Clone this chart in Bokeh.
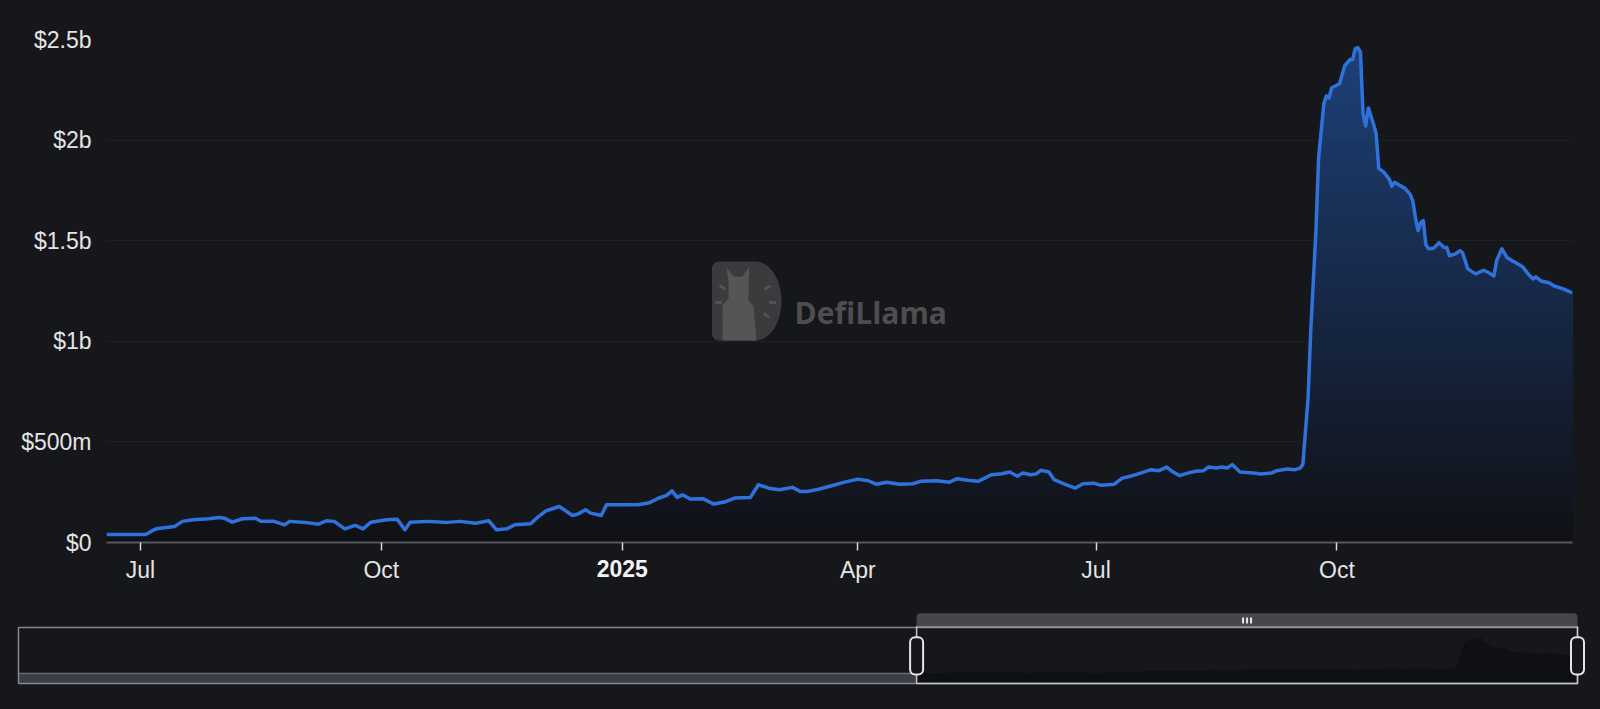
import numpy as np
import pandas as pd
from bokeh.plotting import figure
from bokeh.models import Range1d, FixedTicker, Label, PolyAnnotation, DatetimeAxis, GlobalInlineStyleSheet
from bokeh.layouts import column
from bokeh.embed import file_html
from bokeh.resources import INLINE

# ---------------- data (TVL in millions of USD) ----------------
dates = [
    "2024-06-18", "2024-07-03", "2024-07-05", "2024-07-07", "2024-07-14", "2024-07-17", "2024-07-21",
    "2024-07-27", "2024-07-31", "2024-08-02", "2024-08-05", "2024-08-09", "2024-08-14", "2024-08-16",
    "2024-08-21", "2024-08-25", "2024-08-27", "2024-09-02", "2024-09-07", "2024-09-10", "2024-09-13",
    "2024-09-17", "2024-09-21", "2024-09-24", "2024-09-27", "2024-10-03", "2024-10-07", "2024-10-10",
    "2024-10-12", "2024-10-19", "2024-10-26", "2024-10-31", "2024-11-06", "2024-11-11", "2024-11-14",
    "2024-11-18", "2024-11-21", "2024-11-27", "2024-11-30", "2024-12-03", "2024-12-08", "2024-12-13",
    "2024-12-15", "2024-12-18", "2024-12-20", "2024-12-24", "2024-12-26", "2025-01-03", "2025-01-07",
    "2025-01-11", "2025-01-15", "2025-01-18", "2025-01-20", "2025-01-22", "2025-01-24", "2025-01-27",
    "2025-02-01", "2025-02-05", "2025-02-09", "2025-02-13", "2025-02-19", "2025-02-22", "2025-02-26",
    "2025-03-02", "2025-03-07", "2025-03-10", "2025-03-13", "2025-03-17", "2025-03-22", "2025-03-27",
    "2025-04-01", "2025-04-05", "2025-04-08", "2025-04-12", "2025-04-17", "2025-04-22", "2025-04-25",
    "2025-05-01", "2025-05-06", "2025-05-09", "2025-05-13", "2025-05-17", "2025-05-22", "2025-05-26",
    "2025-05-29", "2025-06-01", "2025-06-03", "2025-06-06", "2025-06-08", "2025-06-10", "2025-06-13",
    "2025-06-15", "2025-06-19", "2025-06-23", "2025-06-26", "2025-06-30", "2025-07-03", "2025-07-08",
    "2025-07-11", "2025-07-14", "2025-07-18", "2025-07-22", "2025-07-25", "2025-07-28", "2025-07-30",
    "2025-08-02", "2025-08-05", "2025-08-08", "2025-08-11", "2025-08-13", "2025-08-16", "2025-08-18",
    "2025-08-20", "2025-08-22", "2025-08-25", "2025-08-30", "2025-09-02", "2025-09-06", "2025-09-08",
    "2025-09-12", "2025-09-15", "2025-09-17", "2025-09-18", "2025-09-20", "2025-09-21", "2025-09-23",
    "2025-09-24", "2025-09-26", "2025-09-27", "2025-09-28", "2025-09-29", "2025-10-02", "2025-10-04",
    "2025-10-06", "2025-10-07", "2025-10-08", "2025-10-09", "2025-10-10", "2025-10-11", "2025-10-12",
    "2025-10-13", "2025-10-15", "2025-10-16", "2025-10-17", "2025-10-19", "2025-10-21", "2025-10-22",
    "2025-10-23", "2025-10-27", "2025-10-29", "2025-10-30", "2025-10-31", "2025-11-01", "2025-11-02",
    "2025-11-03", "2025-11-04", "2025-11-05", "2025-11-07", "2025-11-09", "2025-11-11", "2025-11-12",
    "2025-11-13", "2025-11-15", "2025-11-17", "2025-11-18", "2025-11-20", "2025-11-23", "2025-11-26",
    "2025-11-28", "2025-11-30", "2025-12-01", "2025-12-03", "2025-12-05", "2025-12-07", "2025-12-11",
    "2025-12-13", "2025-12-15", "2025-12-16", "2025-12-18", "2025-12-21", "2025-12-23", "2025-12-26",
    "2025-12-30",
]
tvl_m = [
    40, 40, 55, 68, 80, 105, 113,
    118, 124, 121, 101, 118, 121, 105,
    105, 88, 105, 100, 91, 108, 105,
    68, 85, 68, 101, 113, 116, 63,
    101, 105, 100, 105, 96, 108, 63,
    68, 88, 93, 129, 158, 179, 134,
    141, 163, 146, 134, 188, 188, 188,
    196, 221, 234, 257, 224, 237, 216,
    217, 191, 201, 221, 224, 287, 270,
    262, 274, 254, 254, 265, 282, 300,
    315, 307, 290, 299, 290, 292, 304,
    307, 300, 317, 309, 304, 337, 342,
    350, 329, 345, 337, 340, 359, 350,
    312, 290, 270, 292, 295, 284, 290,
    320, 329, 345, 362, 357, 375, 354,
    332, 345, 354, 357, 375, 370, 375,
    370, 387, 350, 345, 340, 345, 357,
    365, 362, 370, 388, 719, 1050, 1550,
    1910, 2180, 2220, 2210, 2260, 2280, 2370,
    2400, 2400, 2455, 2460, 2437, 2130, 2070,
    2160, 2080, 2030, 1860, 1840, 1806, 1770,
    1790, 1760, 1730, 1698, 1615, 1550, 1590,
    1600, 1480, 1460, 1463, 1490, 1466, 1466,
    1425, 1433, 1450, 1441, 1360, 1335, 1353,
    1341, 1325, 1400, 1460, 1416, 1400, 1370,
    1335, 1310, 1320, 1300, 1291, 1275, 1263,
    1240,
]
# full history shown in the zoom slider (flat before the visible window)
history_start = "2022-05-19"
history_start_tvl_m = 40

y_ticks_m = [0, 500, 1000, 1500, 2000, 2500]
y_tick_labels = ["$0", "$500m", "$1b", "$1.5b", "$2b", "$2.5b"]
x_tick_dates = ["2024-07-01", "2024-10-01", "2025-01-01", "2025-04-01", "2025-07-01", "2025-10-01"]
x_tick_labels = ["Jul", "Oct", "2025", "Apr", "Jul", "Oct"]
x_tick_bold = [False, False, True, False, False, False]
watermark_text = "DefiLlama"

# ---------------- style ----------------
BG = "#16171a"
LINE = "#2f72dc"
TXT = "#e4e4e4"
FONT = "Liberation Sans"
FS = "23px"
W = 1600
H_MAIN = 598
H_SL = 111
ML, MR, MT, MB = 106, 28, 39, 56
FH = H_MAIN - MT - MB

EPOCH = pd.Timestamp("1970-01-01")


def to_ms(d):
    return (pd.Timestamp(d) - EPOCH) / pd.Timedelta(milliseconds=1)


t_ms = np.array([to_ms(d) for d in dates])
v = np.array(tvl_m, dtype=float)
x_tick_ms = [to_ms(d) for d in x_tick_dates]

# ---------------- main chart ----------------
p = figure(width=W, height=H_MAIN, x_axis_type="datetime", output_backend="svg",
           toolbar_location=None,
           x_range=Range1d(t_ms[0], t_ms[-1]), y_range=Range1d(y_ticks_m[0], y_ticks_m[-1]),
           min_border_left=ML, min_border_right=MR, min_border_top=MT, min_border_bottom=MB,
           background_fill_color=BG, border_fill_color=BG, outline_line_color=None)
p.frame_align = False

# vertical gradient fill under the line (relative to the area's bounding box)
N = 48
top_rgb = np.array([29, 64, 120], dtype=float)
bot_rgb = np.array([16, 17, 21], dtype=float)
vmax = v.max()
for k in range(N - 1, -1, -1):
    cap = vmax * (k + 1) / N
    f = (k + 0.5) / N
    c = bot_rgb + (top_rgb - bot_rgb) * f
    col = "#%02x%02x%02x" % tuple(int(round(x)) for x in c)
    p.varea(x=t_ms, y1=0, y2=np.minimum(v, cap), fill_color=col, fill_alpha=1.0)

p.line(t_ms, v, line_color=LINE, line_width=3.5, line_join="round")

p.xgrid.visible = False
p.ygrid.grid_line_color = "#1f2024"
p.ygrid.grid_line_width = 1

p.yaxis.ticker = FixedTicker(ticks=y_ticks_m)
p.yaxis.major_label_overrides = {tk: lb for tk, lb in zip(y_ticks_m, y_tick_labels)}
p.yaxis.axis_line_color = None
p.yaxis.major_tick_line_color = None
p.yaxis.major_tick_out = 0
p.yaxis.major_tick_in = 0
p.yaxis.minor_tick_line_color = None
p.yaxis.minor_tick_out = 0
p.yaxis.major_label_standoff = 15
p.yaxis.major_label_text_font = FONT
p.yaxis.major_label_text_font_size = FS
p.yaxis.major_label_text_color = TXT

p.xaxis.ticker = FixedTicker(ticks=x_tick_ms)
p.xaxis.major_label_overrides = {tk: ("" if b else lb) for tk, lb, b in zip(x_tick_ms, x_tick_labels, x_tick_bold)}
p.xaxis.axis_line_color = "#55575c"
p.xaxis.axis_line_width = 2
p.xaxis.major_tick_line_color = "#d8d8d8"
p.xaxis.major_tick_line_width = 1.5
p.xaxis.major_tick_out = 8
p.xaxis.major_tick_in = 0
p.xaxis.minor_tick_line_color = None
p.xaxis.minor_tick_out = 0
p.xaxis.major_label_standoff = 6
p.xaxis.major_label_text_font = FONT
p.xaxis.major_label_text_font_size = FS
p.xaxis.major_label_text_color = TXT

# second (label-only) axis for the bold year label, pulled up onto the first axis' label row
bold_ticks = [tk for tk, b in zip(x_tick_ms, x_tick_bold) if b]
ax2 = DatetimeAxis(ticker=FixedTicker(ticks=bold_ticks),
                   major_label_overrides={tk: lb for tk, lb, b in zip(x_tick_ms, x_tick_labels, x_tick_bold) if b})
ax2.axis_line_color = None
ax2.major_tick_line_color = None
ax2.major_tick_out = 0
ax2.major_tick_in = 0
ax2.minor_tick_line_color = None
ax2.minor_tick_out = 0
ax2.minor_tick_in = 0
ax2.major_label_standoff = -26
ax2.major_label_text_font = FONT
ax2.major_label_text_font_size = FS
ax2.major_label_text_font_style = "bold"
ax2.major_label_text_color = "#f4f4f4"
p.add_layout(ax2, "below")

# ---------------- watermark (screen units relative to the plot frame) ----------------
def wm(xs, ys):
    xs = np.asarray(xs, dtype=float)
    ys = np.asarray(ys, dtype=float)
    return list(xs - ML), list(MT + FH - ys)


Lx, Rx, Ty, By = 711.5, 781.0, 261.0, 340.0
rx = 26.0
cx = Rx - rx
cy = (Ty + By) / 2
ry = (By - Ty) / 2
rc = 7.0
a_tl = np.linspace(np.pi, np.pi / 2, 8)
a_arc = np.linspace(np.pi / 2, -np.pi / 2, 40)
a_bl = np.linspace(-np.pi / 2, -np.pi, 8)
d_x = np.concatenate([Lx + rc + rc * np.cos(a_tl), cx + rx * np.cos(a_arc), Lx + rc + rc * np.cos(a_bl)])
d_y = np.concatenate([Ty + rc - rc * np.sin(a_tl), cy - ry * np.sin(a_arc), By - rc - rc * np.sin(a_bl)])
sx, sy = wm(d_x, d_y)
p.add_layout(PolyAnnotation(xs=sx, ys=sy, xs_units="screen", ys_units="screen",
                            fill_color="#3b3b3d", fill_alpha=1, line_color=None))

llama_x = [722, 722, 728, 728, 726, 733, 742, 749, 748, 748, 753, 756]
llama_y = [340, 305, 298, 282, 267, 276, 276, 266, 282, 300, 306, 340]
sx, sy = wm(llama_x, llama_y)
p.add_layout(PolyAnnotation(xs=sx, ys=sy, xs_units="screen", ys_units="screen",
                            fill_color="#555557", fill_alpha=1, line_color=None))

ccx, ccy = 745.0, 301.0
for dx_, dy_ in [(722, 287), (718, 302), (725, 315), (767, 287), (772, 302), (766, 315)]:
    ux, uy = dx_ - ccx, dy_ - ccy
    nrm = np.hypot(ux, uy)
    ux, uy = ux / nrm, uy / nrm
    px_, py_ = -uy, ux
    hl, ht = 3.5, 1.3
    qx = [dx_ - ux * hl - px_ * ht, dx_ + ux * hl - px_ * ht, dx_ + ux * hl + px_ * ht, dx_ - ux * hl + px_ * ht]
    qy = [dy_ - uy * hl - py_ * ht, dy_ + uy * hl - py_ * ht, dy_ + uy * hl + py_ * ht, dy_ - uy * hl + py_ * ht]
    sx, sy = wm(qx, qy)
    p.add_layout(PolyAnnotation(xs=sx, ys=sy, xs_units="screen", ys_units="screen",
                                fill_color="#555557", fill_alpha=1, line_color=None))

tx, ty = wm([794], [312])
p.add_layout(Label(x=tx[0], y=ty[0], x_units="screen", y_units="screen", text=watermark_text,
                   text_align="left", text_baseline="alphabetic", text_font="Open Sans",
                   text_font_size="30px", text_font_style="bold", text_color="#4e4e51"))

# ---------------- zoom slider ----------------
h_ms0 = to_ms(history_start)
end_ms = t_ms[-1]
SX0, SX1 = 18, 1577
mpp = (end_ms - h_ms0) / (SX1 - SX0)
vmin = min(v.min(), history_start_tvl_m)
kk = (vmax - vmin) / (75 - 39)


def sval(py):
    return vmin + (75 - py) * kk


s = figure(width=W, height=H_SL, output_backend="svg", toolbar_location=None,
           x_range=Range1d(h_ms0 - SX0 * mpp, h_ms0 + (W - SX0) * mpp),
           y_range=Range1d(sval(H_SL), sval(0)),
           x_axis_location=None, y_axis_location=None,
           min_border_left=0, min_border_right=0, min_border_top=0, min_border_bottom=0,
           background_fill_color=BG, border_fill_color=BG, outline_line_color=None)
s.frame_align = False
s.grid.visible = False

pre_x = [h_ms0, t_ms[0]]
pre_y = [history_start_tvl_m, v[0]]
s.varea(x=pre_x, y1=sval(85), y2=pre_y, fill_color="#3b3e46")
s.line(pre_x, pre_y, line_color="#686b74", line_width=1.5)
s.varea(x=t_ms, y1=sval(85), y2=v, fill_color="#0f1013")

s.quad(left=[h_ms0], right=[end_ms], top=[sval(29)], bottom=[sval(85)],
       fill_alpha=0, line_color="#85878c", line_width=1.5)
s.quad(left=[t_ms[0]], right=[end_ms], top=[sval(28)], bottom=[sval(85)],
       fill_alpha=0, line_color="#c4c5c8", line_width=1.5)
s.quad(left=[t_ms[0]], right=[end_ms], top=[sval(14.7)], bottom=[sval(28)],
       fill_color="#46474b", line_color=None, border_radius=(4, 4, 0, 0))
cmid = (t_ms[0] + end_ms) / 2
for off in (-4, 0, 4):
    s.quad(left=[cmid + (off - 1) * mpp], right=[cmid + (off + 1) * mpp],
           top=[sval(19)], bottom=[sval(25)], fill_color="#e8e8e8", line_color=None)
for e in (t_ms[0], end_ms):
    s.quad(left=[e - 6.5 * mpp], right=[e + 6.5 * mpp], top=[sval(38.7)], bottom=[sval(76)],
           fill_color=BG, line_color="#e6e6e6", line_width=2, border_radius=5)

lay = column(p, s, spacing=0)
lay.stylesheets = [GlobalInlineStyleSheet(css="html, body { background-color: #16171a; }")]

open("out.html", "w").write(file_html(lay, INLINE))
